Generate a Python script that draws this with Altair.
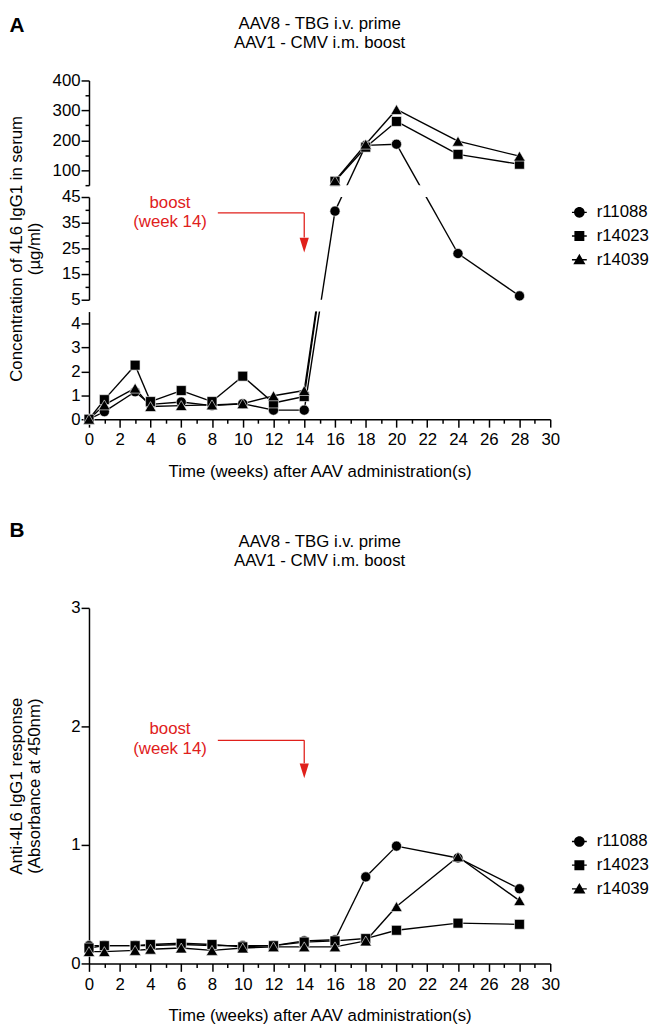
import altair as alt
import pandas as pd

FONT = "Liberation Sans"
RED = "#e0201b"
INK = "black"

# ---------------- data ----------------
weeks = [0, 1, 3, 4, 6, 8, 10, 12, 14, 16, 18, 20, 24, 28]
animals = ["r11088", "r14023", "r14039"]

# Panel A: concentration of 4L6 IgG1 in serum (ug/ml)
igg_r11088 = [0, 0.32, 1.15, 0.62, 0.72, 0.57, 0.65, 0.38, 0.38, 39.5, 183, 187, 23, 6.5]
igg_r14023 = [0, 0.82, 2.26, 0.74, 1.2, 0.74, 1.8, 0.68, 0.95, 63, 177, 263, 153, 120]
igg_r14039 = [0, 0.6, 1.3, 0.53, 0.57, 0.6, 0.65, 0.98, 1.2, 65, 187, 303, 197, 147]

# Panel B: anti-4L6 IgG1 response (absorbance at 450 nm)
ada_r11088 = [0.15, 0.15, 0.15, 0.15, 0.16, 0.15, 0.15, 0.15, 0.19, 0.2, 0.73, 0.99, 0.89, 0.63]
ada_r14023 = [0.13, 0.15, 0.15, 0.16, 0.17, 0.16, 0.14, 0.15, 0.18, 0.19, 0.21, 0.28, 0.34, 0.33]
ada_r14039 = [0.1, 0.1, 0.11, 0.12, 0.13, 0.11, 0.13, 0.14, 0.14, 0.14, 0.19, 0.48, 0.9, 0.53]

# broken y axis of panel A (segments bottom -> top)
seg_lo = [0, 5, 50]
seg_hi = [4.5, 45, 400]
seg_tick = [0.5, 5, 50]

x_ticks = list(range(0, 31))
b_y_ticks = [0, 0.5, 1, 1.5, 2, 2.5, 3]

title_lines = ["AAV8 - TBG i.v. prime", "AAV1 - CMV i.m. boost"]
boost_lines = ["boost", "(week 14)"]
boost_week = 14
ann_text_week = 5.27
ann_arrow_from = 8.38
a_text_y = [42.7, 35.4]
a_arrow_y = [38.8, 29.2]
a_head_y = 26.3
b_text_y = [1.975, 1.81]
b_arrow_y = [1.883, 1.69]
b_head_y = 1.625

# ---------------- layout ----------------
W = 467
PX = [109, 104, 106]     # plot heights of the three segments (bottom -> top)
GAP = 12
H_B = 360

point_shapes = ["circle", "square", "triangle-up"]
point_sizes = [105, 100, 135]
STUB = "M-1,-0.09H1V0.09H-1Z"
legend_paths = [
    "M0.72,0A0.72,0.72,0,1,1,-0.72,0A0.72,0.72,0,1,1,0.72,0Z" + STUB,
    "M-0.67,-0.67H0.67V0.67H-0.67Z" + STUB,
    "M0,-0.8L0.82,0.62L-0.82,0.62Z" + STUB,
]
ARROW = "M-0.62,-1L0.62,-1L0,1Z"

BASE = [0, PX[0] + GAP, PX[0] + GAP + PX[1] + GAP]


def seg_of(v):
    for k in range(3):
        if v <= seg_hi[k] + 1e-9:
            return k
    return 2


def screen(v):
    k = seg_of(v)
    return BASE[k] + (v - seg_lo[k]) / (seg_hi[k] - seg_lo[k]) * PX[k]


def in_panel(v, k):
    return seg_lo[k] + (screen(v) - BASE[k]) * (seg_hi[k] - seg_lo[k]) / PX[k]


igg = dict(zip(animals, [igg_r11088, igg_r14023, igg_r14039]))
ada = dict(zip(animals, [ada_r11088, ada_r14023, ada_r14039]))

seg_rows = [[], [], []]
pt_rows = [[], [], []]
for a in animals:
    vals = igg[a]
    for w, v in zip(weeks, vals):
        pt_rows[seg_of(v)].append({"animal": a, "x": w, "y": v})
    for i in range(len(weeks) - 1):
        v1, v2 = vals[i], vals[i + 1]
        for k in sorted({seg_of(v1), seg_of(v2)}):
            seg_rows[k].append({"animal": a, "x": weeks[i], "x2": weeks[i + 1],
                                "y": in_panel(v1, k), "y2": in_panel(v2, k)})
seg_df = [pd.DataFrame(r) for r in seg_rows]
pt_df = [pd.DataFrame(r) for r in pt_rows]

b_rules = pd.DataFrame([{"animal": a, "x": weeks[i], "x2": weeks[i + 1],
                         "y": ada[a][i], "y2": ada[a][i + 1]}
                        for a in animals for i in range(len(weeks) - 1)])
b_pts = pd.DataFrame([{"animal": a, "x": w, "y": v}
                      for a in animals for w, v in zip(weeks, ada[a])])


def cond(test, major, minor):
    return {"condition": {"test": test, "value": major}, "value": minor}


def y_axis(values, test, title=None, title_padding=0):
    kw = dict(values=values, format="d", labelExpr=f"({test}) ? datum.label : ''",
              tickSize=cond(test, 8, 4), labelPadding=1, labelOverlap=False,
              labelFlush=False, grid=False, title=title)
    if title is not None:
        kw.update(titlePadding=title_padding, titleLineHeight=18)
    return alt.Axis(**kw)


def x_axis_full(title_padding):
    return alt.Axis(values=x_ticks, format="d",
                    labelExpr="datum.value % 2 === 0 ? datum.label : ''",
                    tickSize=cond("datum.value % 2 === 0", 8, 4), labelPadding=5,
                    labelOverlap=False, labelFlush=False, grid=False,
                    title="Time (weeks) after AAV administration(s)", titlePadding=title_padding)


x_axis_none = alt.Axis(labels=False, ticks=False, domain=False, grid=False, title=None)

xscale = alt.Scale(domain=[0, 30], nice=False, zero=False)


def data_layers(rule_df, pts, yscale, yaxis, xaxis):
    X = lambda f: alt.X(f, scale=xscale, axis=xaxis)
    Y = lambda f: alt.Y(f, scale=yscale, axis=yaxis)
    layers = [alt.Chart(rule_df).mark_rule(clip=True, color=INK, strokeWidth=1.4).encode(
        x=X("x:Q"), x2="x2:Q", y=Y("y:Q"), y2="y2:Q")]
    for a, shp, sz in zip(animals, point_shapes, point_sizes):
        layers.append(alt.Chart(pts).transform_filter(alt.datum.animal == a).mark_point(
            shape=shp, filled=True, size=sz, color=INK, opacity=1,
            stroke="white", strokeWidth=0.6).encode(x=X("x:Q"), y=Y("y:Q")))
    return layers


def label(text, x, y, size=17, weight="normal"):
    return alt.Chart(pd.DataFrame({"t": [text]})).mark_text(
        font=FONT, fontSize=size, fontWeight=weight, color=INK,
        align="center", baseline="middle").encode(
        text="t:N", x=alt.value(x), y=alt.value(y))


def boost_layers(yscale, yaxis, xaxis, text_y, arrow_y, head_y):
    X = lambda f: alt.X(f, scale=xscale, axis=xaxis)
    Y = lambda f: alt.Y(f, scale=yscale, axis=yaxis)
    txt = alt.Chart(pd.DataFrame({"t": boost_lines, "x": [ann_text_week] * 2, "y": text_y})).mark_text(
        font=FONT, fontSize=17, color=RED, baseline="middle", align="center").encode(
        text="t:N", x=X("x:Q"), y=Y("y:Q"))
    h = alt.Chart(pd.DataFrame({"x": [ann_arrow_from], "x2": [boost_week], "y": [arrow_y[0]]})).mark_rule(
        color=RED, strokeWidth=1.3).encode(x=X("x:Q"), x2="x2:Q", y=Y("y:Q"))
    v = alt.Chart(pd.DataFrame({"x": [boost_week], "y": [arrow_y[0]], "y2": [arrow_y[1]]})).mark_rule(
        color=RED, strokeWidth=1.3).encode(x=X("x:Q"), y=Y("y:Q"), y2="y2:Q")
    head = alt.Chart(pd.DataFrame({"x": [boost_week], "y": [head_y]})).mark_point(
        shape=ARROW, filled=True, size=225, color=RED, opacity=1).encode(x=X("x:Q"), y=Y("y:Q"))
    return [txt, h, v, head]


def legend_layer(lx, ly):
    return alt.Chart(pd.DataFrame({"animal": animals})).mark_point(
        filled=True, size=225, color=INK, opacity=0).encode(
        shape=alt.Shape("animal:N", scale=alt.Scale(domain=animals, range=legend_paths),
                        legend=alt.Legend(title=None, orient="none", legendX=lx, legendY=ly,
                                          symbolSize=225, labelFont=FONT, labelFontSize=17,
                                          labelColor=INK, labelOffset=9, rowPadding=6,
                                          padding=0, symbolStrokeWidth=0,
                                          symbolFillColor=INK, symbolOpacity=1)),
        x=alt.value(0), y=alt.value(0))


ys = [alt.Scale(domain=[seg_lo[k], seg_hi[k]], nice=False, zero=False) for k in range(3)]
tests = ["datum.value % 1 === 0", "(datum.value - 5) % 10 === 0", "datum.value % 100 === 0"]
tick_vals = [[round(seg_lo[k] + i * seg_tick[k], 4)
              for i in range(int(round((seg_hi[k] - seg_lo[k]) / seg_tick[k])) + 1)]
             for k in range(3)]

ax_up = y_axis(tick_vals[2], tests[2])
upper = alt.layer(
    *data_layers(seg_df[2], pt_df[2], ys[2], ax_up, x_axis_none),
    label("A", -73, -55.5, 21, "bold"),
    label(title_lines[0], W / 2, -57),
    label(title_lines[1], W / 2, -37.5),
).properties(width=W, height=PX[2])

ax_mid = y_axis(tick_vals[1], tests[1], ["Concentration of 4L6 IgG1 in serum", "(µg/ml)"], 18)
middle = alt.layer(
    *data_layers(seg_df[1], pt_df[1], ys[1], ax_mid, x_axis_none),
    *boost_layers(ys[1], ax_mid, x_axis_none, a_text_y, a_arrow_y, a_head_y),
    legend_layer(488, 125),
).properties(width=W, height=PX[1])

ax_low = y_axis(tick_vals[0], tests[0])
xa_a = x_axis_full(16)
lower = alt.layer(
    *data_layers(seg_df[0], pt_df[0], ys[0], ax_low, xa_a),
).properties(width=W, height=PX[0])

panel_a = alt.vconcat(upper, middle, lower, spacing=GAP, bounds="flush")

yB = alt.Scale(domain=[0, 3], nice=False, zero=False)
ax_b = y_axis(b_y_ticks, tests[0], ["Anti-4L6 IgG1 response", "(Absorbance at 450nm)"], 27.5)
xa_b = x_axis_full(16)
panel_b = alt.layer(
    *data_layers(b_rules, b_pts, yB, ax_b, xa_b),
    *boost_layers(yB, ax_b, xa_b, b_text_y, b_arrow_y, b_head_y),
    legend_layer(488, 228),
    label("B", -73, -78, 21, "bold"),
    label(title_lines[0], W / 2, -67),
    label(title_lines[1], W / 2, -47),
).properties(width=W, height=H_B)

chart = alt.concat(panel_a, panel_b, columns=1, align="each",
                   spacing={"row": 41, "column": 0}).resolve_scale(
    shape="independent").resolve_legend(shape="independent")

chart = chart.configure(font=FONT, padding=0).configure_view(stroke=None).configure_axis(
    domainColor=INK, domainWidth=1.5, tickColor=INK, tickWidth=1.5,
    labelFont=FONT, labelFontSize=17, labelColor=INK,
    titleFont=FONT, titleFontSize=17, titleFontWeight="normal", titleColor=INK)

chart.save("out.html", embed_options={"renderer": "svg", "actions": False})
